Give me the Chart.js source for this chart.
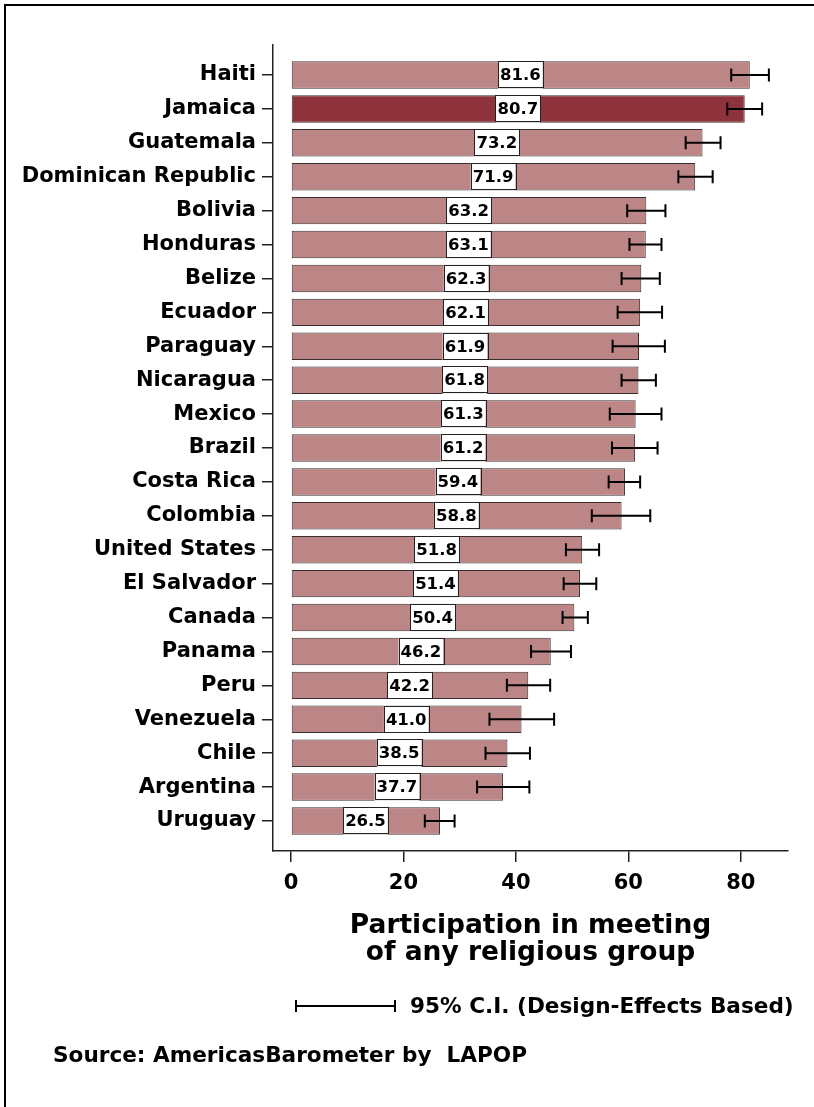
<!DOCTYPE html>
<html>
<head>
<meta charset="utf-8">
<script src="https://cdn.jsdelivr.net/npm/chart.js@4"></script>
<style>
  body { margin: 0; background: #fff; }
  #wrap { position: relative; width: 814px; height: 1107px; overflow: hidden; }
  #frame { position: absolute; left: 4px; top: 4px; width: 830px; height: 1120px;
           border-top: 2px solid #000; border-left: 2px solid #000; }
  .txt { position: absolute; font-family: "DejaVu Sans", sans-serif; font-weight: bold;
         font-size: 21.6px; line-height: 24px; color: #000; white-space: pre; }
  .bar { position: absolute; background: #000; }
</style>
</head>
<body>
<div id="wrap">
  <canvas id="myChart" width="814" height="1107"></canvas>
  <div id="frame"></div>
  <div class="bar" style="left:296px;top:1005px;width:99px;height:2px"></div>
  <div class="bar" style="left:295px;top:1000px;width:2px;height:12px"></div>
  <div class="bar" style="left:394px;top:1000px;width:2px;height:12px"></div>
  <div class="txt" style="left:410px;top:994px">95% C.I. (Design-Effects Based)</div>
  <div class="txt" style="left:53px;top:1043px">Source: AmericasBarometer by  LAPOP</div>
</div>
<script>
const countries = ['Haiti', 'Jamaica', 'Guatemala', 'Dominican Republic', 'Bolivia', 'Honduras',
  'Belize', 'Ecuador', 'Paraguay', 'Nicaragua', 'Mexico', 'Brazil', 'Costa Rica', 'Colombia',
  'United States', 'El Salvador', 'Canada', 'Panama', 'Peru', 'Venezuela', 'Chile', 'Argentina', 'Uruguay'];
const values = [81.6, 80.7, 73.2, 71.9, 63.2, 63.1, 62.3, 62.1, 61.9, 61.8, 61.3, 61.2, 59.4, 58.8,
  51.8, 51.4, 50.4, 46.2, 42.2, 41.0, 38.5, 37.7, 26.5];
const ciLow = [78.3, 77.6, 70.2, 68.9, 59.8, 60.2, 58.8, 58.1, 57.2, 58.8, 56.7, 57.1, 56.5, 53.5,
  48.9, 48.5, 48.3, 42.7, 38.4, 35.3, 34.6, 33.1, 23.8];
const ciHigh = [85.0, 83.8, 76.4, 75.0, 66.6, 65.9, 65.6, 66.0, 66.5, 64.9, 65.9, 65.2, 62.1, 63.9,
  54.8, 54.3, 52.8, 49.8, 46.1, 46.8, 42.5, 42.4, 29.1];
const xTicks = [0, 20, 40, 60, 80];
const highlight = 'Jamaica';

const FONT = 'DejaVu Sans';

// white value boxes + confidence interval whiskers
const overlay = {
  id: 'overlay',
  afterDatasetsDraw(chart) {
    const ctx = chart.ctx;
    const xs = chart.scales.x;
    const bars = chart.getDatasetMeta(0).data;
    ctx.save();
    ctx.font = 'bold 16.5px "' + FONT + '"';
    ctx.textAlign = 'center';
    ctx.textBaseline = 'middle';
    bars.forEach((bar, i) => {
      const h = bar.height;
      const y = bar.y;
      // value box
      const txt = values[i].toFixed(1);
      const w = ctx.measureText(txt).width + 4;
      const cx = xs.getPixelForValue(values[i] / 2);
      ctx.fillStyle = '#fff';
      ctx.fillRect(cx - w / 2, y - h / 2, w, h);
      ctx.strokeStyle = '#222';
      ctx.lineWidth = 1;
      ctx.strokeRect(Math.round(cx - w / 2) + 0.5, Math.round(y - h / 2) + 0.5, Math.round(w), Math.round(h) - 1);
      ctx.fillStyle = '#000';
      ctx.fillText(txt, cx, y + 1);
      // error bar
      const lo = xs.getPixelForValue(ciLow[i]);
      const hi = xs.getPixelForValue(ciHigh[i]);
      ctx.strokeStyle = '#000';
      ctx.lineWidth = 2;
      ctx.beginPath();
      ctx.moveTo(lo, y); ctx.lineTo(hi, y);
      ctx.moveTo(lo, y - 6.5); ctx.lineTo(lo, y + 6.5);
      ctx.moveTo(hi, y - 6.5); ctx.lineTo(hi, y + 6.5);
      ctx.stroke();
    });
    ctx.restore();
  }
};

const ctx = document.getElementById('myChart').getContext('2d');
const myChart = new Chart(ctx, {
    type: 'bar',
    data: {
        datasets: [{
            data: values.map((v, i) => ({x: v, y: i})),
            backgroundColor: countries.map(c => c === highlight ? '#8E333B' : '#BC8686'),
            borderColor: '#3a2f2f',
            borderWidth: 1,
            borderSkipped: false,
            barPercentage: 0.81,
            categoryPercentage: 1
        }]
    },
    plugins: [overlay],
    options: {
        indexAxis: 'y',
        responsive: false,
        animation: false,
        layout: { padding: { left: 0, top: 45, right: 26, bottom: 141 } },
        plugins: {
            legend: { display: false },
            tooltip: { enabled: false }
        },
        scales: {
            y: {
                type: 'linear',
                reverse: true,
                offset: false,
                min: -0.885,
                max: 22.885,
                afterFit: s => { s.width = 273; },
                border: { display: true, color: '#222', width: 1.5 },
                grid: { offset: false, drawOnChartArea: false, drawTicks: true, tickLength: 11, color: '#222', lineWidth: 1.5 },
                ticks: {
                    stepSize: 1,
                    includeBounds: false,
                    autoSkip: false,
                    padding: 6,
                    color: '#000',
                    font: { family: FONT, weight: 'bold', size: 21 },
                    callback: v => countries[v]
                }
            },
            x: {
                min: -3.2,
                max: 88.4,
                afterFit: s => { s.height = 115; },
                border: { display: true, color: '#222', width: 1.5 },
                grid: { drawOnChartArea: false, drawTicks: true, tickLength: 11, color: '#222', lineWidth: 1.5 },
                ticks: {
                    stepSize: 20,
                    includeBounds: false,
                    padding: 9,
                    color: '#000',
                    font: { family: FONT, weight: 'bold', size: 21 },
                    callback: v => xTicks.includes(v) ? String(v) : ''
                },
                title: {
                    display: true,
                    text: ['Participation in meeting', 'of any religious group'],
                    color: '#000',
                    font: { family: FONT, weight: 'bold', size: 26.5, lineHeight: 1.0 },
                    padding: { top: 0, bottom: 0 }
                }
            }
        }
    }
});
</script>
</body>
</html>
